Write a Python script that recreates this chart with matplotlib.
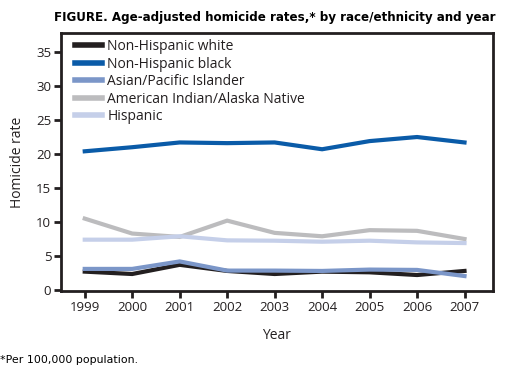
import matplotlib
matplotlib.use("Agg")
import matplotlib.pyplot as plt

years = [1999, 2000, 2001, 2002, 2003, 2004, 2005, 2006, 2007]
series_names = ["Non-Hispanic white", "Non-Hispanic black", "Asian/Pacific Islander",
                "American Indian/Alaska Native", "Hispanic"]
nh_white = [2.7, 2.35, 3.7, 2.8, 2.35, 2.7, 2.6, 2.2, 2.8]
nh_black = [20.4, 21.0, 21.7, 21.6, 21.7, 20.7, 21.9, 22.5, 21.7]
asian_pi = [3.1, 3.1, 4.2, 2.85, 2.85, 2.8, 3.0, 2.95, 2.05]
am_indian = [10.5, 8.3, 7.8, 10.2, 8.4, 7.9, 8.8, 8.7, 7.5]
hispanic = [7.4, 7.4, 7.9, 7.3, 7.25, 7.1, 7.25, 7.0, 6.9]
yticks = [0, 5, 10, 15, 20, 25, 30, 35]

colors = ["#231f20", "#0a5ba8", "#7b96c8", "#bcbcbe", "#c5cfe9"]
data = [nh_white, nh_black, asian_pi, am_indian, hispanic]

fig = plt.figure(figsize=(5.16, 3.78), dpi=100)
ax = fig.add_axes([61/516, 1-291/378, (493-61)/516, (291-33)/378])

order = [3, 4, 1, 0, 2]
lines = {}
for i in order:
    ln, = ax.plot(years, data[i], color=colors[i], lw=3.0, solid_joinstyle="miter",
                  label=series_names[i], zorder=2 + order.index(i))
    lines[i] = ln

ax.set_xlim(1998.5, 2007.6)
ax.set_ylim(-0.15, 37.8)
ax.set_xticks(years)
ax.set_yticks(yticks)
font = "Open Sans"
ax.set_xticklabels([str(y) for y in years], fontsize=9.5, family=font, color="#231f20")
ax.set_yticklabels([str(v) for v in yticks], fontsize=9.5, family=font, color="#231f20")
for s in ax.spines.values():
    s.set_linewidth(2)
    s.set_color("#231f20")
ax.tick_params(axis="both", direction="out", length=5, width=2, color="#231f20", pad=2)

ax.set_xlabel("Year", fontsize=10, family=font, color="#231f20", labelpad=10)
ax.set_ylabel("Homicide rate", fontsize=10, family=font, color="#231f20", labelpad=8)

leg = ax.legend([lines[i] for i in range(5)], series_names, loc="upper left",
                frameon=False, prop={"family": font, "size": 10},
                handlelength=2.0, handletextpad=0.35, labelspacing=0.18,
                borderaxespad=0.2, bbox_to_anchor=(0.012, 1.008))
for t in leg.get_texts():
    t.set_color("#231f20")
for h in leg.get_lines():
    h.set_linewidth(4)

fig.text(0.104, 1-17/378, "FIGURE. Age-adjusted homicide rates,* by race/ethnicity and year",
         fontsize=8.6, fontweight="bold", family="DejaVu Sans", va="center", ha="left")
fig.text(0.0, 1-360/378, "*Per 100,000 population.", fontsize=7.9, family="DejaVu Sans",
         va="center", ha="left")

fig.savefig("out.png", dpi=100)
